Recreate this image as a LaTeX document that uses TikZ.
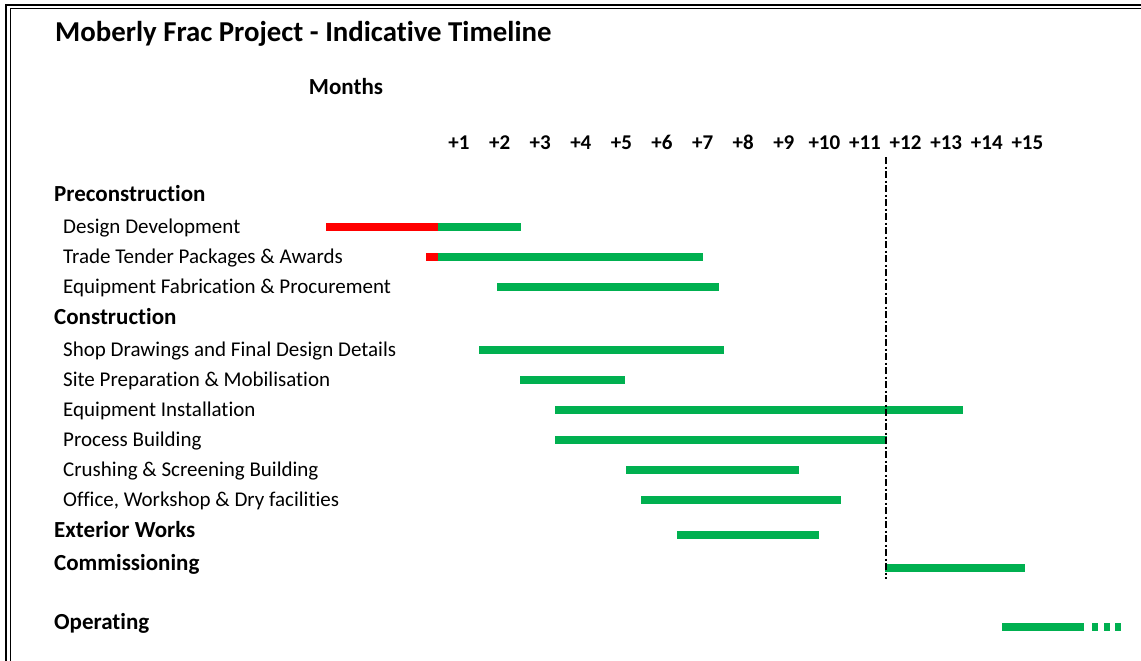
\documentclass[tikz,border=0pt]{standalone}
\usepackage{fontspec}
\setmainfont{Carlito}[Ligatures={NoCommon}]
\usetikzlibrary{positioning}
\definecolor{barGreen}{RGB}{0,176,80}
\definecolor{barRed}{RGB}{255,0,0}

\begin{document}
\begin{tikzpicture}[x=1pt,y=-1pt,
    title/.style={anchor=base west,inner sep=0pt,
		font=\fontsize{28.8}{33}\selectfont\bfseries},
    heading/.style={anchor=base west,inner sep=0pt,
		font=\fontsize{23}{28}\selectfont\bfseries},
    task/.style={anchor=base west,inner sep=0pt,
		font=\fontsize{21}{25}\selectfont},
    month/.style={anchor=base,inner sep=0pt,
		font=\fontsize{21}{25}\selectfont\bfseries},
% Bar styles
    bar/.style={line width=8pt,draw=barGreen},
    delay/.style={line width=8pt,draw=barRed},
    cutoff/.style={line width=2pt,dash pattern=on 7pt off 2.5pt on 2pt off 2.5pt}
    ]
\useasboundingbox (0,0) rectangle (1141,661);
\clip (0,0) rectangle (1141,661);
% double frame, runs off the page right and bottom
\draw [line width=1.5pt] (6,5) rectangle (1180,690);
\draw [line width=1pt] (10,9) rectangle (1176,686);

\node [title] (heading) at (55,41.5) {Moberly Frac Project - Indicative Timeline};
\node [heading,anchor=base] (months) at (346,95) {Months};
\foreach \m in {1,...,15}
  \node [month] (m\m) at ({459+40.6*(\m-1)},149) {+\m};

% row labels
\node [heading] (precon) at (54,201) {Preconstruction};
\node [task] (design) at (63,233) {Design Development};
\node [task] (tender) at (63,263) {Trade Tender Packages \& Awards};
\node [task] (fabrication) at (63,293) {Equipment Fabrication \& Procurement};
\node [heading] (construction) at (54,324) {Construction};
\node [task] (shop) at (63,356) {Shop Drawings and Final Design Details};
\node [task] (site) at (63,386) {Site Preparation \& Mobilisation};
\node [task] (install) at (63,416) {Equipment Installation};
\node [task] (process) at (63,446) {Process Building};
\node [task] (crushing) at (63,476) {Crushing \& Screening Building};
\node [task] (office) at (63,506) {Office, Workshop \& Dry facilities};
\node [heading] (exterior) at (54,537) {Exterior Works};
\node [heading] (commissioning) at (54,570) {Commissioning};
\node [heading] (operating) at (54,629) {Operating};

% bars
\draw [delay] (326,227) -- (438,227);
\draw [delay] (426,257) -- (438,257);
\foreach \y/\a/\b in {227/438/521, 257/438/703, 287/497/719, 350/479/724,
    380/520/625, 410/555/963, 440/555/887, 469.5/626/799, 499.5/641/841,
    534.5/677/819, 568/885/1025, 627/1002/1084}
  \draw [bar] (\a,\y) -- (\b,\y);
\foreach \d in {1092,1104,1115}
  \draw [bar] (\d,627) -- +(6,0);

\draw [cutoff] (885.5,157) -- (885.5,579);
\end{tikzpicture}
\end{document}
